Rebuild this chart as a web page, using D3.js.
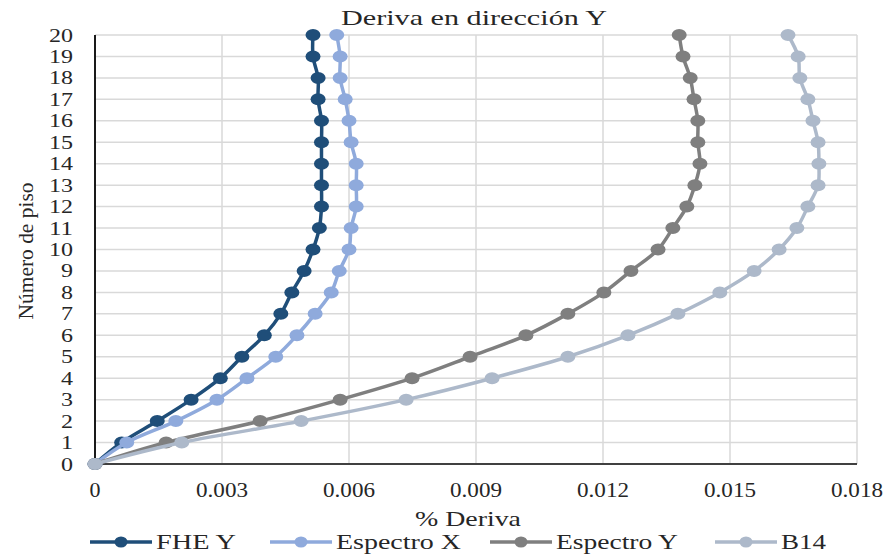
<!DOCTYPE html>
<html>
<head>
<meta charset="utf-8">
<script src="https://cdn.jsdelivr.net/npm/d3@7"></script>
<style>
  body { margin: 0; background: #fff; }
  svg text { font-family: "Times New Roman", "Liberation Serif", Tinos, serif; fill: #262626; }
</style>
</head>
<body>
<div id="chart"></div>
<script>
// floors 0..20
let floors = d3.range(0, 21);
let xTicks = [0, 0.003, 0.006, 0.009, 0.012, 0.015, 0.018];
let seriesNames = ["FHE Y", "Espectro X", "Espectro Y", "B14"];
let seriesColors = ["#1F4E79", "#8FAADC", "#7F7F7F", "#ADB9CA"];

let fheY = [0, 0.00063, 0.00147, 0.00227, 0.00296, 0.00347, 0.00400, 0.00439, 0.00465, 0.00494, 0.00515,
            0.00530, 0.00535, 0.00535, 0.00535, 0.00535, 0.00535, 0.00527, 0.00527, 0.00515, 0.00515];
let espX = [0, 0.00075, 0.00191, 0.00288, 0.00359, 0.00427, 0.00477, 0.00520, 0.00558, 0.00577, 0.00600,
            0.00605, 0.00617, 0.00617, 0.00617, 0.00605, 0.00600, 0.00591, 0.00579, 0.00579, 0.00571];
let espY = [0, 0.00168, 0.00390, 0.00579, 0.00749, 0.00886, 0.01018, 0.01117, 0.01202, 0.01266, 0.01330,
            0.01365, 0.01398, 0.01417, 0.01429, 0.01424, 0.01424, 0.01415, 0.01406, 0.01389, 0.01380];
let b14  = [0, 0.00205, 0.00487, 0.00735, 0.00938, 0.01117, 0.01259, 0.01377, 0.01476, 0.01557, 0.01616,
            0.01658, 0.01684, 0.01708, 0.01710, 0.01708, 0.01696, 0.01684, 0.01665, 0.01661, 0.01637];

let allSeries = [fheY, espX, espY, b14];

let svg = d3.select("#chart").append("svg")
  .attr("width", 890)
  .attr("height", 556);

let x = d3.scaleLinear().domain([0, 0.018]).range([95, 857]);
let y = d3.scaleLinear().domain([0, 20]).range([464, 35]);

// grid
svg.append("g").selectAll("line")
  .data(floors.slice(1))
  .enter().append("line")
  .attr("x1", x(0)).attr("x2", x(0.018))
  .attr("y1", d => y(d)).attr("y2", d => y(d))
  .attr("stroke", "#D9D9D9").attr("stroke-width", 1.5);

svg.append("g").selectAll("line")
  .data(xTicks.slice(1))
  .enter().append("line")
  .attr("x1", d => x(d)).attr("x2", d => x(d))
  .attr("y1", y(0)).attr("y2", y(20))
  .attr("stroke", "#D9D9D9").attr("stroke-width", 1.5);

// axes lines
svg.append("line")
  .attr("x1", x(0)).attr("x2", x(0))
  .attr("y1", y(20)).attr("y2", y(0))
  .attr("stroke", "#1a1a1a").attr("stroke-width", 2);
svg.append("line")
  .attr("x1", x(0)).attr("x2", x(0.018))
  .attr("y1", y(0)).attr("y2", y(0))
  .attr("stroke", "#404040").attr("stroke-width", 2);

// tick labels
svg.append("g").selectAll("text")
  .data(floors)
  .enter().append("text")
  .attr("x", 73)
  .attr("y", d => y(d) + 6.5)
  .attr("text-anchor", "end")
  .attr("textLength", d => d < 10 ? 12 : 24).attr("lengthAdjust", "spacingAndGlyphs")
  .style("font-size", "19px")
  .text(d => d);

svg.append("g").selectAll("text")
  .data(xTicks)
  .enter().append("text")
  .attr("x", d => x(d))
  .attr("y", 497)
  .attr("text-anchor", "middle")
  .attr("textLength", d => d === 0 ? 11 : 52).attr("lengthAdjust", "spacingAndGlyphs")
  .style("font-size", "20px")
  .text(d => d === 0 ? "0" : d.toFixed(3));

// titles
svg.append("text")
  .attr("x", 474).attr("y", 25)
  .attr("text-anchor", "middle")
  .attr("textLength", 266).attr("lengthAdjust", "spacingAndGlyphs")
  .style("font-size", "21px")
  .text("Deriva en dirección Y");

svg.append("text")
  .attr("x", 468).attr("y", 526)
  .attr("text-anchor", "middle")
  .attr("textLength", 106).attr("lengthAdjust", "spacingAndGlyphs")
  .style("font-size", "21px")
  .text("% Deriva");

svg.append("text")
  .attr("transform", "translate(33,251) rotate(-90)")
  .attr("text-anchor", "middle")
  .attr("textLength", 137).attr("lengthAdjust", "spacingAndGlyphs")
  .style("font-size", "21px")
  .text("Número de piso");

// series
let line = d3.line()
  .x(d => x(d.v))
  .y(d => y(d.f))
  .curve(d3.curveCatmullRom.alpha(0.5));

allSeries.forEach((vals, i) => {
  let pts = vals.map((v, f) => ({v: v, f: f}));
  let g = svg.append("g");
  g.append("path")
    .attr("d", line(pts))
    .attr("fill", "none")
    .attr("stroke", seriesColors[i])
    .attr("stroke-width", 3.5);
  g.selectAll("ellipse")
    .data(pts)
    .enter().append("ellipse")
    .attr("cx", d => x(d.v))
    .attr("cy", d => y(d.f))
    .attr("rx", 7.5).attr("ry", 6)
    .attr("fill", seriesColors[i]);
});

// legend
let legX = [90, 270, 490, 715];
let legW = [80, 125, 122, 45];
let leg = svg.append("g").selectAll("g")
  .data(seriesNames)
  .enter().append("g")
  .attr("transform", (d, i) => `translate(${legX[i]},542)`);

leg.append("line")
  .attr("x1", 0).attr("x2", 62)
  .attr("stroke", (d, i) => seriesColors[i])
  .attr("stroke-width", 3.5);
leg.append("ellipse")
  .attr("cx", 31).attr("rx", 6.5).attr("ry", 5.5)
  .attr("fill", (d, i) => seriesColors[i]);
leg.append("text")
  .attr("x", 66).attr("y", 7)
  .attr("textLength", (d, i) => legW[i]).attr("lengthAdjust", "spacingAndGlyphs")
  .style("font-size", "21px")
  .text(d => d);
</script>
</body>
</html>
